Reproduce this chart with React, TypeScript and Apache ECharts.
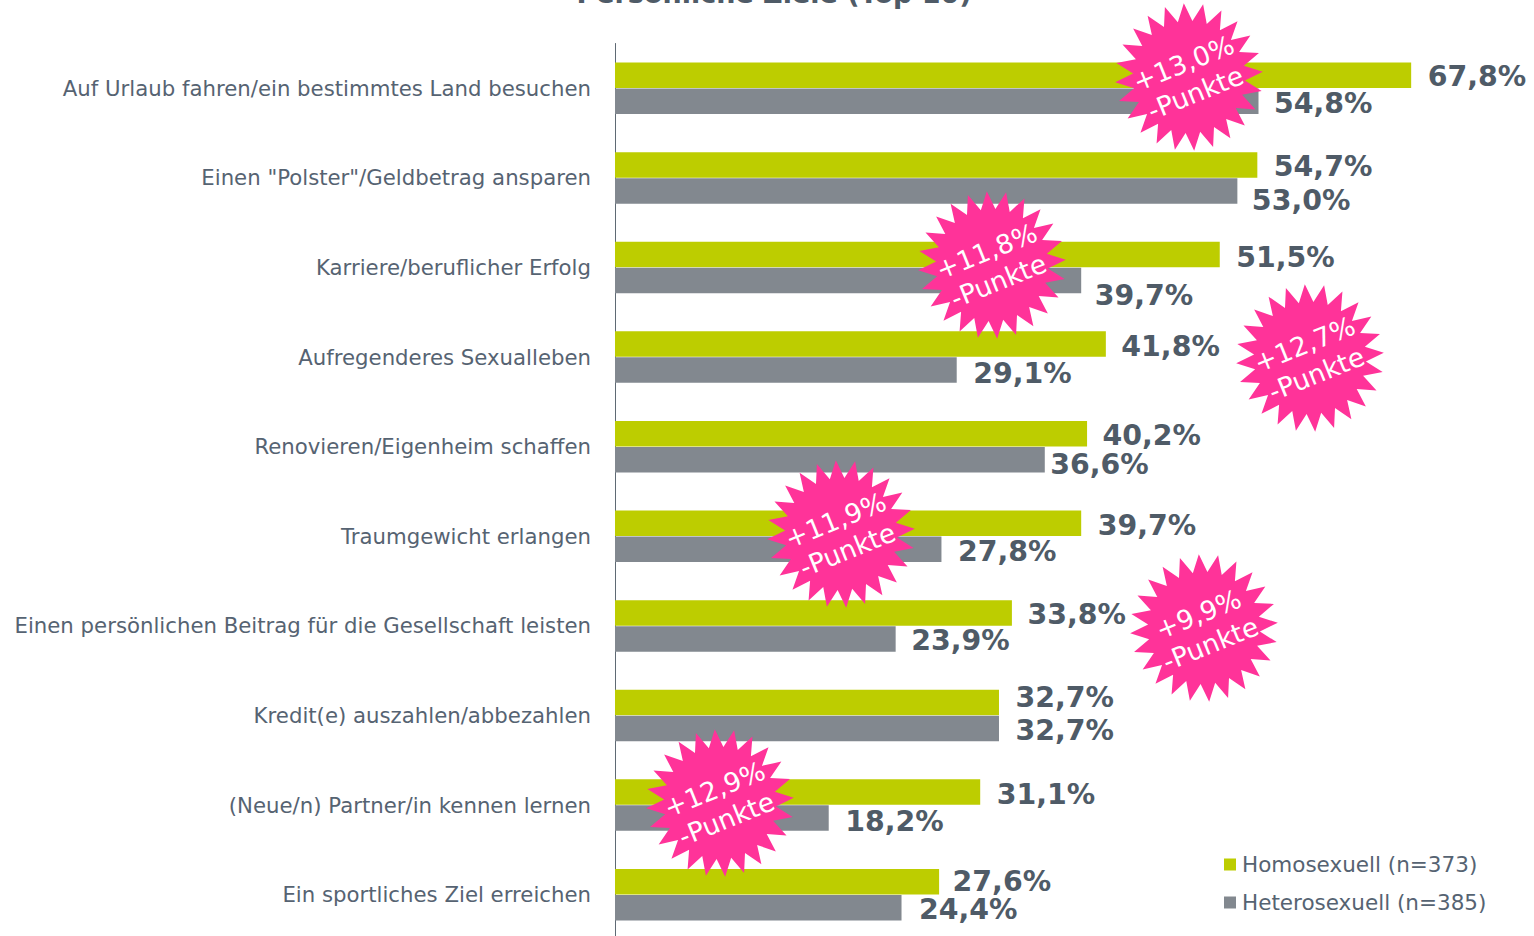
import React, { useEffect, useRef } from "react";
import * as echarts from "echarts";

const categories = [
  "Auf Urlaub fahren/ein bestimmtes Land besuchen",
  'Einen "Polster"/Geldbetrag ansparen',
  "Karriere/beruflicher Erfolg",
  "Aufregenderes Sexualleben",
  "Renovieren/Eigenheim schaffen",
  "Traumgewicht erlangen",
  "Einen persönlichen Beitrag für die Gesellschaft leisten",
  "Kredit(e) auszahlen/abbezahlen",
  "(Neue/n) Partner/in kennen lernen",
  "Ein sportliches Ziel erreichen",
];
const homosexuell = [67.8, 54.7, 51.5, 41.8, 40.2, 39.7, 33.8, 32.7, 31.1, 27.6];
const heterosexuell = [54.8, 53.0, 39.7, 29.1, 36.6, 27.8, 23.9, 32.7, 18.2, 24.4];
const seriesNames = ["Homosexuell (n=373)", "Heterosexuell (n=385)"];
const titleText = "Persönliche Ziele (Top 10)";
const badgeTexts = ["+13,0%", "+11,8%", "+12,7%", "+11,9%", "+9,9%", "+12,9%"];

// layout only
const homoLabelOffsets = [[16.5,1],[16.5,2],[16.5,3],[15.5,2],[15.5,2],[16.5,2],[15.5,2],[16.5,-5],[16.5,2],[13.5,0]];
const heteroLabelOffsets = [[15.5,2.5],[14.5,10],[13.5,15],[16.5,3],[5.5,5],[16.5,2.5],[15.5,2],[16.5,2],[16.5,3],[17.5,2]];
const badgeCenters = [[1189,77],[992,265],[1310,358],[841,534],[1204,628],[720,803]];

const SHIFT = 40;
const TEXT = "#566372";
const fmt = (v: number) => v.toFixed(1).replace(".", ",") + "%";

function starPoints(outer: number, inner: number, spikes: number) {
  const pts: number[][] = [];
  for (let i = 0; i < spikes * 2; i++) {
    const r = i % 2 === 0 ? outer : inner;
    const a = (Math.PI * i) / spikes - Math.PI / 2 - 0.07;
    pts.push([r * Math.cos(a), r * Math.sin(a)]);
  }
  return pts;
}

function barData(values: number[], offsets: number[][]) {
  return values.map((value, i) => ({
    value,
    label: { offset: offsets[i] },
  }));
}

export default function App() {
  const ref = useRef<HTMLDivElement>(null);
  useEffect(() => {
    document.body.style.margin = "0";
    document.body.style.overflow = "hidden";
    const chart = echarts.init(ref.current!, undefined, { renderer: "svg" });
    const font = "'DejaVu Sans', Verdana, sans-serif";
    const barLabel = {
      show: true,
      position: "right" as const,
      distance: 0,
      fontFamily: font,
      fontSize: 28.4,
      fontWeight: "bold" as const,
      color: "#4f5b67",
      formatter: (p: any) => fmt(p.value),
    };
    chart.setOption({
      animation: false,
      backgroundColor: "#ffffff",
      textStyle: { fontFamily: font },
      title: {
        text: titleText,
        left: 769,
        top: SHIFT - 25,
        textAlign: "center",
        textStyle: { fontFamily: font, fontSize: 27, fontWeight: "bold", color: "#4f5b67" },
      },
      legend: {
        orient: "vertical",
        left: 1224,
        top: SHIFT + 852,
        padding: 0,
        icon: "rect",
        itemWidth: 12,
        itemHeight: 12,
        itemGap: 13,
        data: seriesNames,
        textStyle: { fontFamily: font, fontSize: 21.5, color: TEXT, padding: [0, 0, 0, 1], lineHeight: 25 },
      },
      grid: { left: 615, top: 43.5 + SHIFT, width: 822, height: 896 },
      xAxis: { type: "value", min: 0, max: 70, show: false },
      yAxis: {
        type: "category",
        inverse: true,
        data: categories,
        axisLine: { lineStyle: { color: "#5f6a74", width: 1 } },
        axisTick: { length: 7, lineStyle: { color: "#5f6a74" } },
        axisLabel: { fontFamily: font, fontSize: 21.25, color: TEXT, margin: 24 },
      },
      series: [
        {
          name: seriesNames[0], type: "bar", barWidth: 25.5, barGap: "2%",
          itemStyle: { color: "#bdcd00" },
          label: barLabel,
          data: barData(homosexuell, homoLabelOffsets),
        },
        {
          name: seriesNames[1], type: "bar", barWidth: 25.5,
          itemStyle: { color: "#82888f" },
          label: barLabel,
          data: barData(heterosexuell, heteroLabelOffsets),
        },
      ],
      graphic: badgeCenters.map((c, i) => ({
        type: "group",
        x: c[0],
        y: c[1] + SHIFT,
        z: 100,
        children: [
          {
            type: "polygon",
            z: 100,
            shape: { points: starPoints(74, 56, 24) },
            style: { fill: "#ff3399" },
          },
          {
            type: "text",
            z: 101,
            rotation: (22 * Math.PI) / 180,
            style: {
              text: badgeTexts[i] + "\n-Punkte",
              x: 0,
              y: 1,
              align: "center",
              verticalAlign: "middle",
              fill: "#ffffff",
              fontFamily: font,
              fontSize: 26.5,
              lineHeight: 32,
            },
          },
        ],
      })),
    });
    return () => chart.dispose();
  }, []);
  return (
    <div
      ref={ref}
      style={{ position: "absolute", left: 0, top: -SHIFT, width: 1534, height: 1020 }}
    />
  );
}
